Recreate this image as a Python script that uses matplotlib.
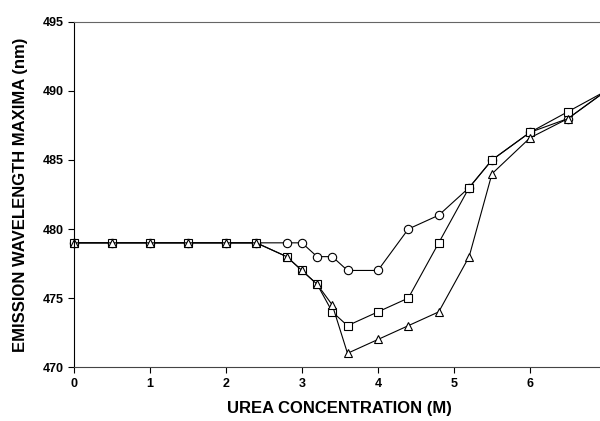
import matplotlib.pyplot as plt

# Urea concentration (M)
urea = [0, 0.5, 1, 1.5, 2, 2.4, 2.8, 3.0, 3.2, 3.4, 3.6, 4.0, 4.4, 4.8, 5.2, 5.5, 6.0, 6.5, 7.0]

# Emission wavelength maxima (nm) for each series
circles = [479, 479, 479, 479, 479, 479, 479, 479, 478, 478, 477, 477, 480, 481, 483, 485, 487, 488, 490]
squares = [479, 479, 479, 479, 479, 479, 478, 477, 476, 474, 473, 474, 475, 479, 483, 485, 487, 488.5, 490]
triangles = [479, 479, 479, 479, 479, 479, 478, 477, 476, 474.5, 471, 472, 473, 474, 478, 484, 486.6, 488, 490]

plt.rcParams['font.family'] = ['Liberation Sans', 'DejaVu Sans']

fig = plt.figure(figsize=(6, 4.21), dpi=100)
ax = fig.add_axes([0.123, 0.128, 0.887, 0.82])

for ys, m in [(circles, 'o'), (squares, 's'), (triangles, '^')]:
    ax.plot(urea, ys, color='black', lw=0.8, marker=m, markersize=6,
            markerfacecolor='white', markeredgecolor='black', markeredgewidth=0.8,
            clip_on=False)

ax.set_xlim(0, 7)
ax.set_ylim(470, 495)
ax.set_xticks([0, 1, 2, 3, 4, 5, 6])
ax.set_yticks([470, 475, 480, 485, 490, 495])

ax.spines['right'].set_visible(False)
ax.spines['top'].set_color('#666666')
ax.spines['bottom'].set_color('#444444')
for s in ax.spines.values():
    s.set_linewidth(0.8)

ax.tick_params(direction='out', length=4, width=0.8, labelsize=9)
for lab in ax.get_xticklabels() + ax.get_yticklabels():
    lab.set_fontweight('bold')

ax.set_xlabel('UREA CONCENTRATION (M)', fontsize=12, fontweight='bold', labelpad=8)
ax.set_ylabel('EMISSION WAVELENGTH MAXIMA (nm)', fontsize=12, fontweight='bold', labelpad=10)

fig.savefig('out.png', dpi=100)
